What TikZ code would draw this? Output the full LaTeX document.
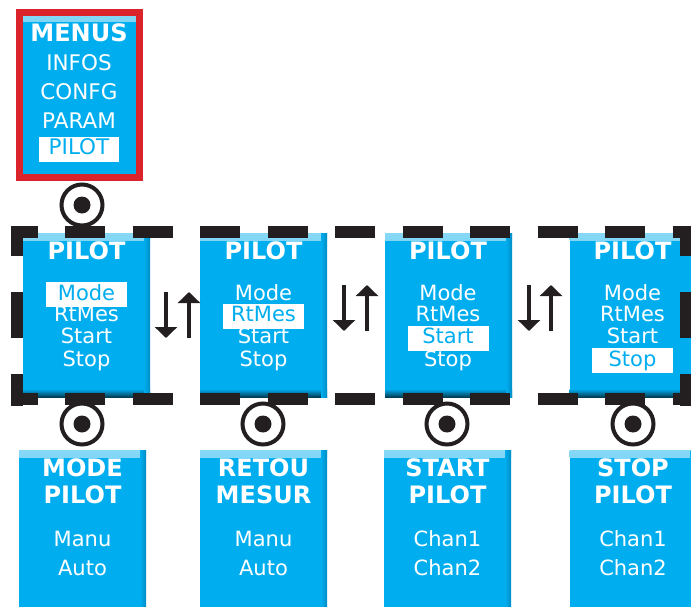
\documentclass[tikz,border=0pt]{standalone}
\usepackage{fontspec}
\setmainfont{DejaVu Sans}
\usetikzlibrary{arrows.meta}
\definecolor{pblue}{RGB}{0,174,239}
\definecolor{plight}{RGB}{135,216,246}
\definecolor{pdark}{RGB}{0,62,86}
\definecolor{pedge}{RGB}{0,140,196}
\definecolor{mred}{RGB}{218,35,42}
\definecolor{ink}{RGB}{35,31,32}
\begin{document}
\begin{tikzpicture}[x=1pt, y=-1pt,
    pbox/.style={rectangle, fill=pblue, inner sep=0pt, minimum width=127pt, minimum height=164pt,
      path picture={
        \shade[top color=plight, bottom color=pblue] (path picture bounding box.north west) rectangle ([yshift=-7pt]path picture bounding box.north east);
        \shade[top color=pblue, bottom color=pdark] ([yshift=8pt]path picture bounding box.south west) rectangle (path picture bounding box.south east);
        \shade[left color=pblue, right color=pedge] ([xshift=-6pt]path picture bounding box.north east) rectangle (path picture bounding box.south east);}},
    bbox/.style={pbox, minimum height=180pt},
    mbox/.style={rectangle, fill=pblue, draw=mred, line width=7pt, inner sep=0pt, minimum width=120pt, minimum height=165pt,
      path picture={
        \shade[top color=plight, bottom color=pblue] (path picture bounding box.north west) rectangle ([yshift=-9pt]path picture bounding box.north east);}},
    btn/.style={circle, draw=ink, line width=4pt, minimum size=41pt, inner sep=0pt,
      path picture={\fill[ink] (path picture bounding box.center) circle (8.5pt);}},
    item/.style={text=white, font=\fontsize{21}{25}\selectfont, inner sep=0pt, text height=15pt, text depth=4pt},
    mitem/.style={item, font=\fontsize{21.5}{25}\selectfont},
    head/.style={item, font=\fontsize{24}{28}\selectfont\bfseries},
    sel/.style={item, fill=white, text=pblue, minimum width=81pt, minimum height=25pt},
    msel/.style={sel, font=\fontsize{21.5}{25}\selectfont, minimum width=80pt},
    hdash/.style={ink, line width=12pt, dash pattern=on 40pt off 27.5pt},
    vdash/.style={ink, line width=12pt, dash pattern=on 46pt off 36pt},
    flow/.style={ink, line width=3.5pt, -{Triangle[width=22pt, length=11pt]}}]
  \path[use as bounding box, clip] (0,0) rectangle (691,607);

  % menu
  \node[mbox] (menu) at (79.5,95) {};
  \node[head] (mt) at (79,36.2) {MENUS};
  \node[mitem] (m1) at (79,65.2) {INFOS};
  \node[mitem] (m2) at (79,94.5) {CONFG};
  \node[mitem] (m3) at (79,123.5) {PARAM};
  \node[msel] (m4) at (79,149.5) {PILOT};

  % pilot screens and sub menus
  \foreach \x [count=\i] in {86.5,263.5,448.5,633}
    \node[pbox] (p\i) at (\x,315) {};
  \foreach \x [count=\i] in {82.5,263.5,447.5,633}
    \node[bbox] (b\i) at (\x,540) {};

  % dashed frame
  \begin{scope}
    \clip (11,226) rectangle (691,405);
    \draw[hdash] (-2.5,232) -- (700,232);
    \draw[hdash] (-2.5,399) -- (700,399);
    \draw[vdash] (17,210) -- (17,420);
    \draw[vdash] (686,210) -- (686,420);
  \end{scope}

  % buttons
  \node[btn] (k0) at (82,205) {};
  \foreach \x [count=\i] in {82,263,447,633}
    \node[btn] (k\i) at (\x,424) {};

  % up / down arrows
  \foreach \xd/\xu/\yt/\yb [count=\i] in {166/189/292/338, 344/367/285/331, 529/551/285/331} {
    \coordinate (d\i a) at (\xd,\yt);
    \coordinate (d\i b) at (\xd,\yb);
    \coordinate (u\i a) at (\xu,\yb);
    \coordinate (u\i b) at (\xu,\yt);
    \draw[flow] (d\i a) -- (d\i b);
    \draw[flow] (u\i a) -- (u\i b);
  }

  \node[head] (p1t) at (86.5,253.5) {PILOT};
  \node[sel] (p1a) at (86.5,294.5) {Mode};
  \node[item] (p1b) at (86.5,316) {RtMes};
  \node[item] (p1c) at (86.5,338) {Start};
  \node[item] (p1d) at (86.5,360.5) {Stop};

  \node[head] (p2t) at (263.5,253.5) {PILOT};
  \node[item] (p2a) at (263.5,294.5) {Mode};
  \node[sel] (p2b) at (263.5,316) {RtMes};
  \node[item] (p2c) at (263.5,338) {Start};
  \node[item] (p2d) at (263.5,360.5) {Stop};

  \node[head] (p3t) at (448,253.5) {PILOT};
  \node[item] (p3a) at (448,294.5) {Mode};
  \node[item] (p3b) at (448,316) {RtMes};
  \node[sel] (p3c) at (448,338) {Start};
  \node[item] (p3d) at (448,360.5) {Stop};

  \node[head] (p4t) at (632.5,253.5) {PILOT};
  \node[item] (p4a) at (632.5,294.5) {Mode};
  \node[item] (p4b) at (632.5,316) {RtMes};
  \node[item] (p4c) at (632.5,338) {Start};
  \node[sel] (p4d) at (632.5,360.5) {Stop};

  \node[head] (b1t) at (82.5,471.2) {MODE};
  \node[head] (b1u) at (82.5,497.8) {PILOT};
  \node[item] (b1a) at (82.5,541.2) {Manu};
  \node[item] (b1b) at (82.5,569.5) {Auto};

  \node[head] (b2t) at (263.5,471.2) {RETOU};
  \node[head] (b2u) at (263.5,497.8) {MESUR};
  \node[item] (b2a) at (263.5,541.2) {Manu};
  \node[item] (b2b) at (263.5,569.5) {Auto};

  \node[head] (b3t) at (447.5,471.2) {START};
  \node[head] (b3u) at (447.5,497.8) {PILOT};
  \node[item] (b3a) at (447.5,541.2) {Chan1};
  \node[item] (b3b) at (447.5,569.5) {Chan2};

  \node[head] (b4t) at (633,471.2) {STOP};
  \node[head] (b4u) at (633,497.8) {PILOT};
  \node[item] (b4a) at (633,541.2) {Chan1};
  \node[item] (b4b) at (633,569.5) {Chan2};
\end{tikzpicture}
\end{document}
